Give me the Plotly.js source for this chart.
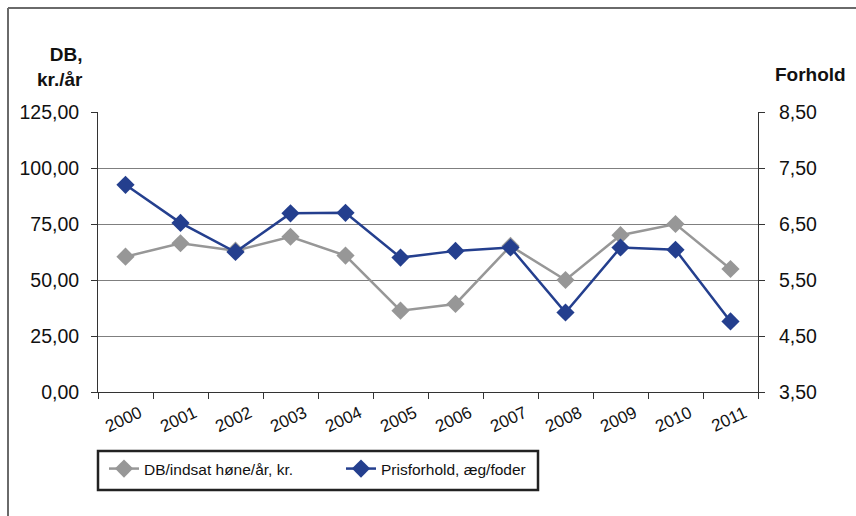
<!DOCTYPE html>
<html>
<head>
<meta charset="utf-8">
<script src="https://cdn.plot.ly/plotly-3.0.1.min.js"></script>
<style>html,body{margin:0;padding:0;background:#fff;}#chart{width:856px;height:516px;}</style>
</head>
<body>
<div id="chart"></div>
<script>
const years = ['2000','2001','2002','2003','2004','2005','2006','2007','2008','2009','2010','2011'];
const dbValues = [60.4, 66.4, 63.1, 69.3, 60.9, 36.3, 39.3, 65.2, 50.0, 70.0, 75.0, 54.9];
const prisValues = [7.20, 6.52, 6.00, 6.69, 6.70, 5.90, 6.02, 6.08, 4.92, 6.08, 6.04, 4.76];
const leftTicks = [0, 25, 50, 75, 100, 125];
const rightTicks = [3.5, 4.5, 5.5, 6.5, 7.5, 8.5];
const seriesNames = ['DB/indsat høne/år, kr.', 'Prisforhold, æg/foder'];
const leftTitle = 'DB,<br>kr./år';
const rightTitle = 'Forhold';

const W = 856, H = 516, L = 98, R = 98, T = 112, B = 124;
const pw = W - L - R, ph = H - T - B;
const px = v => (v - L) / pw;
const py = v => (H - B - v) / ph;

const font = 'Liberation Sans, Arial, sans-serif';

const traces = [
  {
    x: years, y: prisValues, name: seriesNames[1], yaxis: 'y2', type: 'scatter', mode: 'lines+markers',
    line: {color: '#243f8e', width: 2.5},
    marker: {symbol: 'diamond', size: 14, color: '#243f8e'},
    legendrank: 2
  },
  {
    x: years, y: dbValues, name: seriesNames[0], type: 'scatter', mode: 'lines+markers',
    line: {color: '#979797', width: 2.5},
    marker: {symbol: 'diamond', size: 14, color: '#979797'},
    legendrank: 1
  }
];

const layout = {
  width: W, height: H,
  margin: {l: L, r: R, t: T, b: B, pad: 0},
  paper_bgcolor: '#fff', plot_bgcolor: '#fff',
  separators: ',.',
  font: {family: font, size: 16, color: '#111'},
  showlegend: true,
  xaxis: {
    type: 'category', range: [-0.5, 11.5], tickson: 'boundaries',
    showgrid: false, showline: true, linecolor: '#333', linewidth: 1,
    ticks: 'outside', ticklen: 6, tickcolor: '#333',
    tickangle: -25, tickfont: {size: 17, family: font, color: '#111'},
    ticklabelshift: 14, ticklabelstandoff: 4,
    zeroline: false
  },
  yaxis: {
    range: [0, 125], tickvals: leftTicks, tickformat: '.2f',
    showgrid: true, gridcolor: '#7f7f7f', gridwidth: 1,
    showline: true, linecolor: '#333', linewidth: 1,
    ticks: 'outside', ticklen: 6, tickcolor: '#333',
    tickfont: {size: 19.5, family: font, color: '#111'},
    ticklabelstandoff: 8,
    zeroline: false
  },
  yaxis2: {
    range: [3.5, 8.5], tickvals: rightTicks, tickformat: '.2f',
    overlaying: 'y', side: 'right', showgrid: false,
    showline: true, linecolor: '#333', linewidth: 1,
    ticks: 'outside', ticklen: 6, tickcolor: '#333',
    tickfont: {size: 19.5, family: font, color: '#111'},
    ticklabelstandoff: 10,
    zeroline: false
  },
  legend: {
    orientation: 'h', x: px(104), y: py(452), xanchor: 'left', yanchor: 'top',
    borderwidth: 0, bgcolor: 'rgba(0,0,0,0)',
    font: {size: 15.5, family: font, color: '#111'},
    entrywidth: 192, traceorder: 'normal'
  },
  annotations: [
    {text: '<b>' + leftTitle + '</b>', xref: 'paper', yref: 'paper', x: px(85), y: py(42),
     xanchor: 'right', yanchor: 'top', align: 'right', showarrow: false,
     font: {size: 19, family: font, color: '#111'}},
    {text: '<b>' + rightTitle + '</b>', xref: 'paper', yref: 'paper', x: px(773), y: py(62),
     xanchor: 'left', yanchor: 'top', showarrow: false,
     font: {size: 19, family: font, color: '#111'}}
  ],
  shapes: [
    {type: 'line', xref: 'paper', yref: 'paper', x0: px(8), x1: px(856), y0: py(8), y1: py(8),
     line: {color: '#6a6a6a', width: 2}},
    {type: 'line', xref: 'paper', yref: 'paper', x0: px(8), x1: px(8), y0: py(8), y1: py(516),
     line: {color: '#6a6a6a', width: 2}},
    {type: 'rect', xref: 'paper', yref: 'paper', x0: px(98), x1: px(538), y0: py(451), y1: py(490),
     line: {color: '#222', width: 2.5}, fillcolor: 'rgba(0,0,0,0)'}
  ]
};

Plotly.newPlot('chart', traces, layout, {displayModeBar: false, staticPlot: true});
</script>
</body>
</html>
